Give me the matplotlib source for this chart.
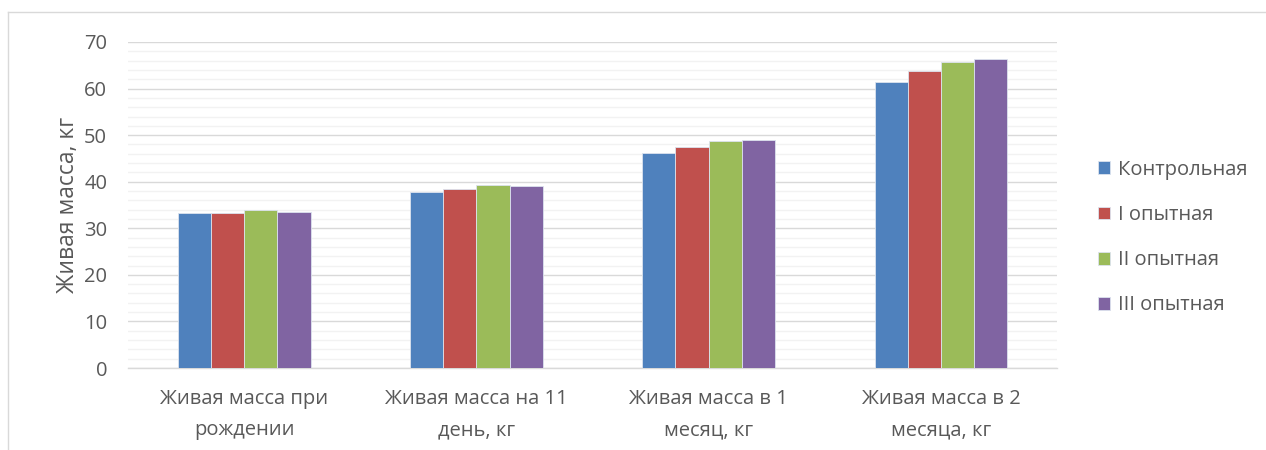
import matplotlib
matplotlib.use("Agg")
import matplotlib.pyplot as plt
import numpy as np
from matplotlib.ticker import MultipleLocator

categories = ["Живая масса при\nрождении", "Живая масса на 11\nдень, кг",
              "Живая масса в 1\nмесяц, кг", "Живая масса в 2\nмесяца, кг"]
series_names = ["Контрольная", "I опытная", "II опытная", "III опытная"]
kontrol = [33.2, 37.8, 46.2, 61.5]
op1 = [33.2, 38.4, 47.5, 63.8]
op2 = [33.9, 39.3, 48.7, 65.6]
op3 = [33.6, 39.1, 49.0, 66.4]
colors = ["#4F81BD", "#C0504D", "#9BBB59", "#8064A2"]
y_ticks = [0, 10, 20, 30, 40, 50, 60, 70]

plt.rcParams['font.family'] = ['Open Sans', 'DejaVu Sans']
text_color = "#595959"

fig = plt.figure(figsize=(12.66, 4.5), dpi=100)
ax = fig.add_axes([0.1011, 0.1822, 0.7339, 0.7245])

x = np.arange(len(categories))
w = 0.143
data = [kontrol, op1, op2, op3]
for i, (vals, name, c) in enumerate(zip(data, series_names, colors)):
    ax.bar(x + (i - 1.5) * w, vals, width=w, color=c, label=name,
           edgecolor="#DCE3EE", linewidth=0.6, zorder=3)

ax.set_xlim(-0.5, len(categories) - 0.5)
ax.set_ylim(0, 70)
ax.set_yticks(y_ticks)
ax.yaxis.set_minor_locator(MultipleLocator(2))
ax.grid(axis='y', which='major', color="#D9D9D9", linewidth=1.0, zorder=0)
ax.grid(axis='y', which='minor', color="#F2F2F2", linewidth=1.0, zorder=0)
ax.set_axisbelow(True)
for s in ["top", "right", "left"]:
    ax.spines[s].set_visible(False)
ax.spines["bottom"].set_color("#D9D9D9")
ax.spines["bottom"].set_linewidth(1.0)
ax.set_xticks(x)
ax.set_xticklabels(categories, fontsize=14.5, color=text_color, linespacing=1.75)
ax.tick_params(axis='x', length=0, pad=15)
ax.tick_params(axis='y', which='both', length=0, labelsize=14.5, labelcolor=text_color, pad=15)
ax.set_ylabel("Живая масса, кг", fontsize=16.5, color=text_color, labelpad=3)

leg = fig.legend(loc="upper left", bbox_to_anchor=(0.853, 0.685), frameon=False,
                 fontsize=14.5, handlelength=0.6, handleheight=0.6,
                 handletextpad=0.4, labelspacing=1.25)
for t in leg.get_texts():
    t.set_color(text_color)

# chart border remnants
fig.add_artist(plt.Line2D([8/1266, 8/1266], [0, 1 - 12/450], transform=fig.transFigure,
                          color="#D9D9D9", linewidth=1.0))
fig.add_artist(plt.Line2D([8/1266, 1], [1 - 12/450, 1 - 12/450], transform=fig.transFigure,
                          color="#D9D9D9", linewidth=1.0))

fig.savefig("out.png", dpi=100)
